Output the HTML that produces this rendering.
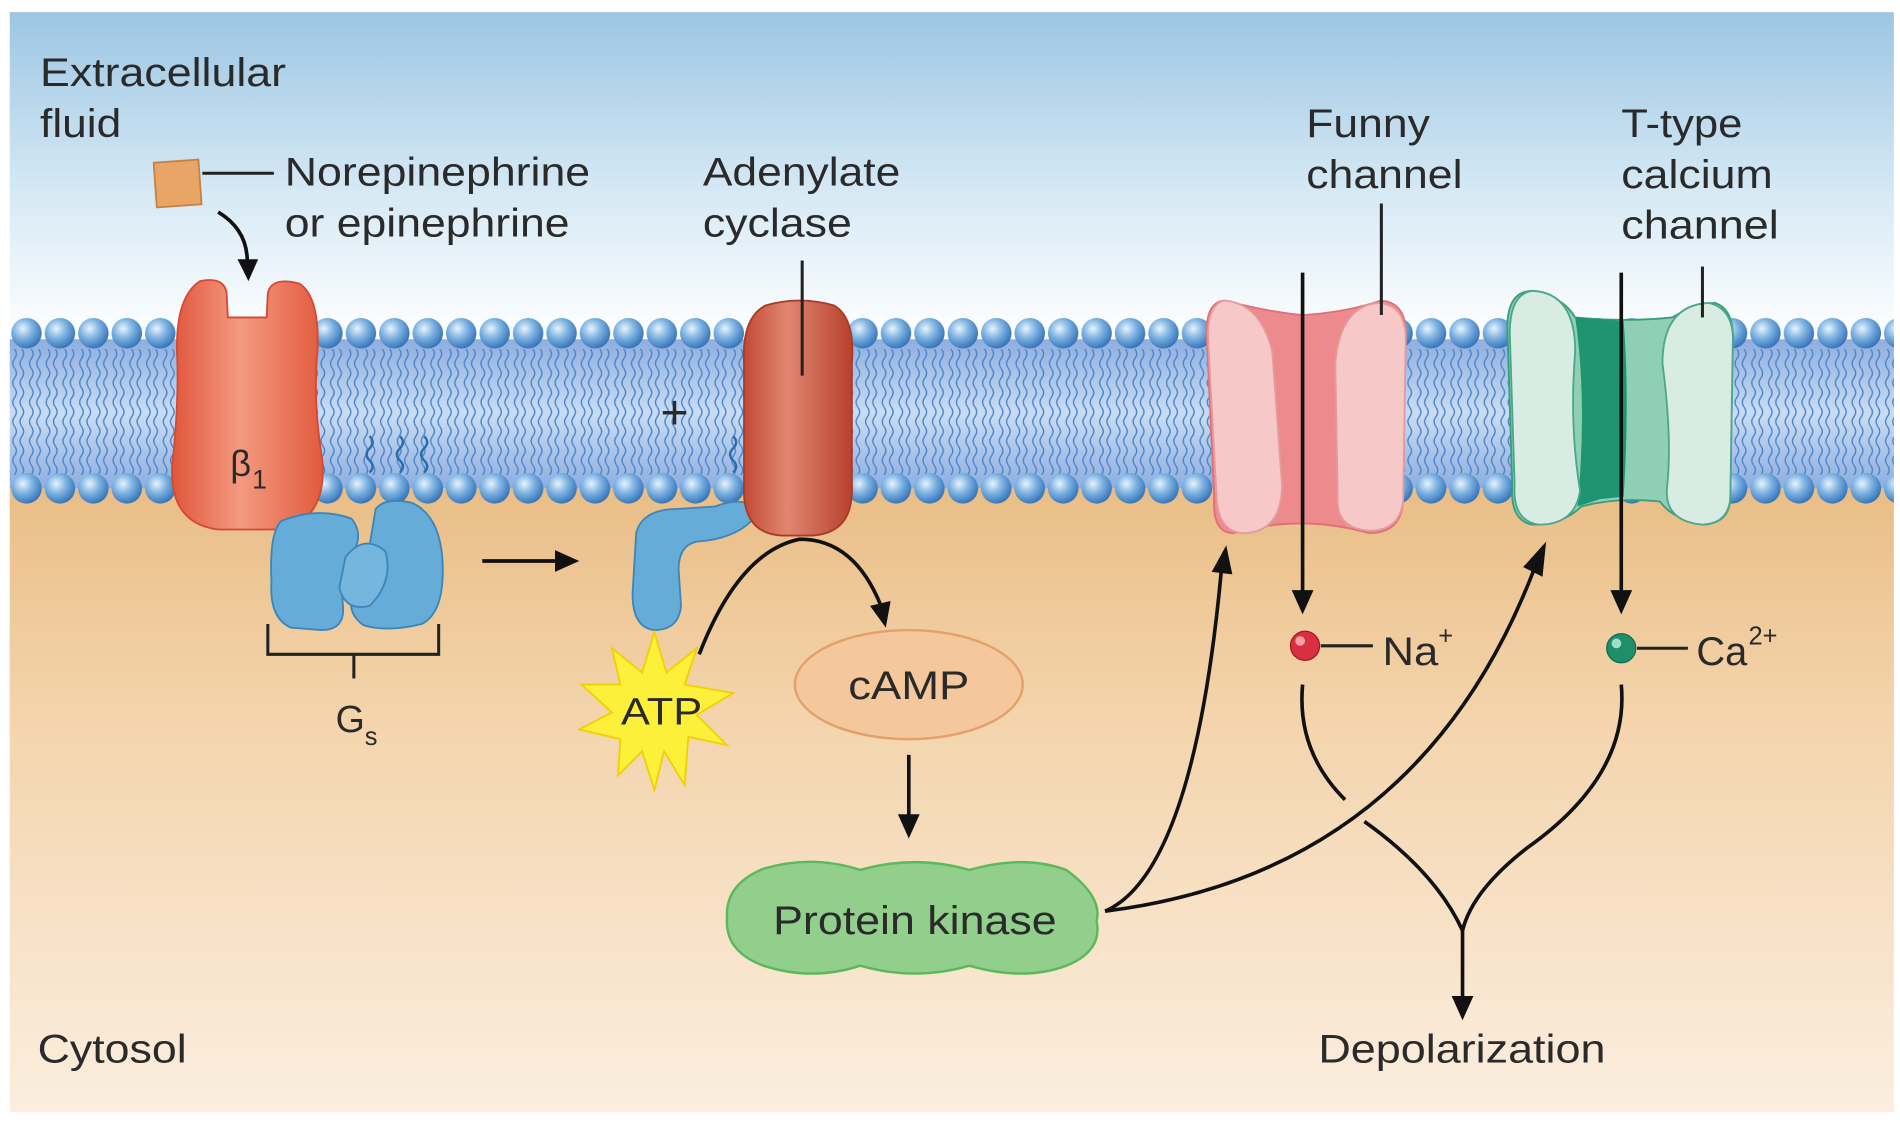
<!DOCTYPE html>
<html><head><meta charset="utf-8"><style>
html,body{margin:0;padding:0;background:#fff;}
svg{display:block;}
text{font-family:"Liberation Sans",Arial,sans-serif;fill:#2a2a2a;}
</style></head><body>
<svg width="1900" height="1130" viewBox="0 0 1568 932.6" xmlns="http://www.w3.org/2000/svg">
<defs>
<linearGradient id="sky" x1="0" y1="0" x2="0" y2="1">
<stop offset="0" stop-color="#9cc6e3"/><stop offset="0.55" stop-color="#d6e9f5"/><stop offset="1" stop-color="#ffffff"/>
</linearGradient>
<linearGradient id="cyt" x1="0" y1="0" x2="0" y2="1">
<stop offset="0" stop-color="#e9bd85"/><stop offset="0.35" stop-color="#f3d3aa"/><stop offset="1" stop-color="#fbeedf"/>
</linearGradient>
<linearGradient id="tailbg" x1="0" y1="0" x2="0" y2="1">
<stop offset="0" stop-color="#8eaee0"/><stop offset="0.5" stop-color="#c9dcf3"/><stop offset="1" stop-color="#8eaee0"/>
</linearGradient>
<radialGradient id="head" cx="0.38" cy="0.35" r="0.7">
<stop offset="0" stop-color="#e8f3fc"/><stop offset="0.45" stop-color="#7fb4e2"/><stop offset="1" stop-color="#2f6fb6"/>
</radialGradient>
<pattern id="heads" patternUnits="userSpaceOnUse" x="8" y="0" width="27.6" height="932.6">
<circle cx="13.8" cy="275" r="12.6" fill="url(#head)"/>
<circle cx="13.8" cy="403" r="12.6" fill="url(#head)"/>
</pattern>
<pattern id="tails" patternUnits="userSpaceOnUse" x="8" y="288" width="13.8" height="16">
<path d="M4 0 q3 4 0 8 q-3 4 0 8 M10 0 q3 4 0 8 q-3 4 0 8" fill="none" stroke="#4a82c8" stroke-width="1.1"/>
</pattern>
<linearGradient id="red" x1="0" y1="0" x2="1" y2="0">
<stop offset="0" stop-color="#e0563c"/><stop offset="0.45" stop-color="#f49a80"/><stop offset="1" stop-color="#e25a3e"/>
</linearGradient>
<linearGradient id="dred" x1="0" y1="0" x2="1" y2="0">
<stop offset="0" stop-color="#c24a36"/><stop offset="0.4" stop-color="#e08670"/><stop offset="1" stop-color="#b8402e"/>
</linearGradient>
</defs>

<rect width="1568" height="932.6" fill="#fff"/>
<rect x="8" y="10" width="1555" height="270" fill="url(#sky)"/>
<rect x="8" y="400" width="1555" height="518" fill="url(#cyt)"/>
<rect x="8" y="280" width="1555" height="123" fill="url(#tailbg)"/>
<rect x="8" y="288" width="1555" height="104" fill="url(#tails)"/>
<rect x="8" y="260" width="1555" height="160" fill="url(#heads)"/>

<text x="33" y="71" font-size="33" textLength="203" lengthAdjust="spacingAndGlyphs">Extracellular</text>
<text x="33" y="113" font-size="33" textLength="67" lengthAdjust="spacingAndGlyphs">fluid</text>
<rect x="128" y="133" width="37" height="37" fill="#e9a566" stroke="#c98040" stroke-width="1.5" transform="rotate(-4 146 151)"/>
<line x1="167" y1="143" x2="226" y2="143" stroke="#222" stroke-width="2.5"/>
<text x="235" y="153" font-size="33" textLength="252" lengthAdjust="spacingAndGlyphs">Norepinephrine</text>
<text x="235" y="195" font-size="33" textLength="235" lengthAdjust="spacingAndGlyphs">or epinephrine</text>
<path d="M180 175 Q205 190 204 218" fill="none" stroke="#111" stroke-width="3"/>
<polygon points="196,214 213,214 205,232" fill="#111"/>

<path d="M165 232 Q185 228 187 242 L188 262 L220 262 L221 242 Q224 228 247 234 Q264 245 262 290 Q258 330 266 380 Q270 430 230 437 L180 437 Q140 432 142 385 Q148 330 146 290 Q145 245 165 232 Z" fill="url(#red)" stroke="#d44a30" stroke-width="1.5"/>
<text x="190" y="393" font-size="30">β</text><text x="208" y="403" font-size="22">1</text>

<path d="M305 360 q5 5 0 10 q-5 5 0 10 q5 5 0 10 M330 360 q5 5 0 10 q-5 5 0 10 q5 5 0 10 M350 360 q5 5 0 10 q-5 5 0 10 q5 5 0 10 M605 360 q5 5 0 10 q-5 5 0 10 q5 5 0 10" stroke="#2a6ea8" stroke-width="2" fill="none"/>

<path d="M232 430 Q262 418 290 428 Q300 440 292 455 Q280 470 283 500 Q285 520 265 520 L240 518 Q222 510 224 480 Q222 440 232 430 Z" fill="#65acd8" stroke="#3d85b8" stroke-width="1.5"/>
<path d="M310 420 Q318 410 340 415 Q362 425 365 460 Q368 505 348 515 Q320 522 300 516 Q285 505 292 490 Q305 475 305 450 Z" fill="#65acd8" stroke="#3d85b8" stroke-width="1.5"/>
<path d="M285 460 Q300 440 318 455 Q325 480 305 500 Q285 505 280 485 Z" fill="#74b6de" stroke="#3d85b8" stroke-width="1.5"/>
<path d="M221 515 L221 540 L362 540 L362 515 M292 540 L292 560" fill="none" stroke="#222" stroke-width="2.5"/>
<text x="277" y="604" font-size="31">G</text><text x="301" y="615" font-size="21">s</text>
<line x1="398" y1="463" x2="462" y2="463" stroke="#111" stroke-width="3"/>
<polygon points="458,454 478,463 458,472" fill="#111"/>

<text x="580" y="153" font-size="33" textLength="163" lengthAdjust="spacingAndGlyphs">Adenylate</text>
<text x="580" y="195" font-size="33" textLength="123" lengthAdjust="spacingAndGlyphs">cyclase</text>
<path d="M525 440 Q530 420 560 420 L590 418 Q612 410 620 418 L620 430 Q605 445 575 447 Q560 450 560 470 L562 500 Q560 520 540 520 Q522 518 522 490 Z" fill="#65acd8" stroke="#3d85b8" stroke-width="1.5"/>
<path d="M632 252 Q660 244 688 252 Q706 262 703 300 L703 400 Q705 440 670 442 L645 442 Q612 440 614 400 L614 300 Q612 262 632 252 Z" fill="url(#dred)" stroke="#a83a28" stroke-width="1.5"/>
<line x1="662" y1="215" x2="662" y2="310" stroke="#222" stroke-width="2.5"/>
<text x="545" y="354" font-size="40" fill="#222">+</text>
<path d="M577 540 Q610 455 660 445 Q705 445 727 500" fill="none" stroke="#111" stroke-width="3"/>
<polygon points="718,500 735,496 731,518" fill="#111"/>

<polygon points="540,522 550,555 575,535 565,565 605,572 575,590 600,615 568,608 565,648 548,620 540,652 530,620 510,640 512,610 478,602 505,588 480,565 512,565 505,535 530,555" fill="#fdf03a" stroke="#f0d000" stroke-width="1.5"/>
<text x="546" y="598" font-size="31" text-anchor="middle" textLength="67" lengthAdjust="spacingAndGlyphs">ATP</text>

<ellipse cx="750" cy="565" rx="94" ry="45" fill="#f4c79c" stroke="#e4a06a" stroke-width="2"/>
<text x="750" y="577" font-size="33" text-anchor="middle" textLength="100" lengthAdjust="spacingAndGlyphs">cAMP</text>
<line x1="750" y1="623" x2="750" y2="676" stroke="#111" stroke-width="3"/>
<polygon points="741,672 759,672 750,692" fill="#111"/>

<path d="M630 717 Q670 705 710 718 Q755 705 800 718 Q845 705 880 718 Q910 740 905 760 Q910 785 880 797 Q845 810 800 797 Q755 810 710 797 Q670 810 630 797 Q598 785 600 758 Q598 730 630 717 Z" fill="#92cf8c" stroke="#5cb85c" stroke-width="2"/>
<text x="755" y="771" font-size="33" text-anchor="middle" textLength="234" lengthAdjust="spacingAndGlyphs">Protein kinase</text>
<path d="M912 752 Q985 720 1008 470" fill="none" stroke="#111" stroke-width="3"/>
<polygon points="1000,472 1017,474 1012,450" fill="#111"/>
<path d="M912 752 Q1170 720 1266 470" fill="none" stroke="#111" stroke-width="3"/>
<polygon points="1257,468 1273,476 1276,447" fill="#111"/>

<path d="M1010 248 Q1050 258 1075 260 Q1110 258 1140 248 Q1162 250 1160 280 L1158 410 Q1158 440 1130 440 Q1100 432 1075 432 Q1045 432 1018 440 Q1000 440 1002 410 L996 280 Q994 250 1010 248 Z" fill="#ec8a8e" stroke="#e07078" stroke-width="1.5"/>
<path d="M1010 248 Q1040 250 1050 290 L1058 400 Q1058 440 1025 440 Q1005 438 1004 410 L997 280 Q996 252 1010 248 Z" fill="#f6c8c8" stroke="#e59a9c" stroke-width="1.5"/>
<path d="M1138 250 Q1162 252 1160 285 L1158 412 Q1156 438 1130 438 Q1102 436 1104 410 L1102 300 Q1106 252 1138 250 Z" fill="#f6c8c8" stroke="#e59a9c" stroke-width="1.5"/>
<text x="1078" y="113" font-size="33" textLength="102" lengthAdjust="spacingAndGlyphs">Funny</text>
<text x="1078" y="155" font-size="33" textLength="129" lengthAdjust="spacingAndGlyphs">channel</text>
<line x1="1140" y1="168" x2="1140" y2="260" stroke="#222" stroke-width="2.5"/>
<line x1="1075" y1="225" x2="1075" y2="490" stroke="#111" stroke-width="3"/>
<polygon points="1066,487 1084,487 1075,507" fill="#111"/>
<circle cx="1077" cy="533" r="12" fill="#d83040" stroke="#a01828" stroke-width="1"/>
<circle cx="1073" cy="529" r="4" fill="#f6a0a8"/>
<line x1="1090" y1="533" x2="1133" y2="533" stroke="#222" stroke-width="2.5"/>
<text x="1141" y="549" font-size="33" textLength="46" lengthAdjust="spacingAndGlyphs">Na</text><text x="1187" y="532" font-size="21">+</text>

<path d="M1265 240 Q1290 245 1300 262 Q1340 266 1380 262 Q1400 250 1415 250 Q1432 255 1430 285 L1428 410 Q1428 432 1405 433 Q1380 428 1370 414 Q1335 410 1305 418 Q1290 433 1265 433 Q1246 430 1248 400 L1244 270 Q1244 240 1265 240 Z" fill="#8fcfb6" stroke="#3a9c7a" stroke-width="1.5"/>
<path d="M1300 262 Q1310 330 1302 418 L1320 412 L1340 410 Q1345 330 1340 265 Z" fill="#1f9470"/>
<path d="M1265 240 Q1300 242 1300 290 Q1295 350 1304 405 Q1300 433 1270 433 Q1248 430 1250 400 L1246 275 Q1246 242 1265 240 Z" fill="#d8ece4" stroke="#4aa888" stroke-width="1.5"/>
<path d="M1410 250 Q1432 255 1430 285 L1428 410 Q1427 432 1405 433 Q1372 430 1376 400 Q1380 360 1372 300 Q1372 252 1410 250 Z" fill="#d8ece4" stroke="#4aa888" stroke-width="1.5"/>
<text x="1338" y="113" font-size="33" textLength="100" lengthAdjust="spacingAndGlyphs">T-type</text>
<text x="1338" y="155" font-size="33" textLength="125" lengthAdjust="spacingAndGlyphs">calcium</text>
<text x="1338" y="197" font-size="33" textLength="130" lengthAdjust="spacingAndGlyphs">channel</text>
<line x1="1405" y1="220" x2="1405" y2="262" stroke="#222" stroke-width="2.5"/>
<line x1="1338" y1="225" x2="1338" y2="490" stroke="#111" stroke-width="3"/>
<polygon points="1329,487 1347,487 1338,507" fill="#111"/>
<circle cx="1338" cy="535" r="12" fill="#1f8f6a" stroke="#0f6a4a" stroke-width="1"/>
<circle cx="1334" cy="531" r="4" fill="#9fe0c8"/>
<line x1="1351" y1="535" x2="1393" y2="535" stroke="#222" stroke-width="2.5"/>
<text x="1400" y="549" font-size="33" textLength="42" lengthAdjust="spacingAndGlyphs">Ca</text><text x="1443" y="532" font-size="21">2+</text>

<path d="M1075 565 Q1070 620 1110 660" fill="none" stroke="#111" stroke-width="3"/>
<path d="M1126 678 Q1185 720 1207 768" fill="none" stroke="#111" stroke-width="3"/>
<path d="M1338 565 Q1345 640 1260 700 Q1215 735 1207 768" fill="none" stroke="#111" stroke-width="3"/>
<line x1="1207" y1="765" x2="1207" y2="825" stroke="#111" stroke-width="3"/>
<polygon points="1198,822 1216,822 1207,842" fill="#111"/>
<text x="1088" y="877" font-size="33" textLength="237" lengthAdjust="spacingAndGlyphs">Depolarization</text>
<text x="31" y="877" font-size="33" textLength="123" lengthAdjust="spacingAndGlyphs">Cytosol</text>
</svg>
</body></html>
